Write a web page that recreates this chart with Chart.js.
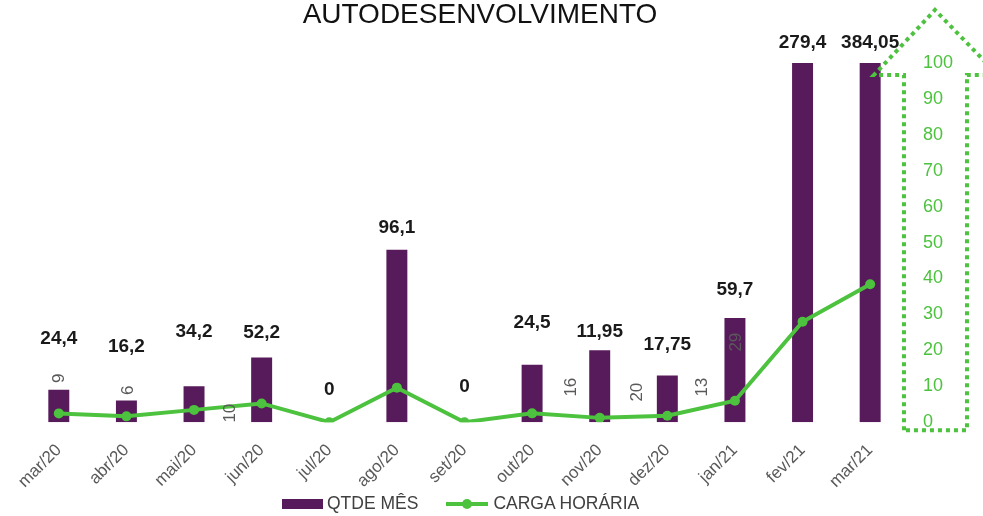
<!DOCTYPE html>
<html>
<head>
<meta charset="utf-8">
<script src="https://cdn.jsdelivr.net/npm/chart.js@4"></script>
<style>
  html, body { margin: 0; padding: 0; background: #fff; }
  #wrap { position: relative; width: 983px; height: 516px; }
  #legend {
    position: absolute; left: 282px; top: 493px;
    display: flex; align-items: center;
    font: 17.5px "Liberation Sans", Arial, sans-serif; color: #404040;
  }
  .sw-bar { width: 41px; height: 10px; background: #571A5A; margin-right: 4px; }
  .sw-line { position: relative; width: 42px; height: 4px; background: #4CC23E; margin: 0 5px 0 28px; }
  .sw-line::after {
    content: ''; position: absolute; left: 16px; top: -3px;
    width: 10px; height: 10px; border-radius: 50%; background: #4CC23E;
  }
</style>
</head>
<body>
<div id="wrap">
  <canvas id="chart" width="983" height="516"></canvas>
  <div id="legend"></div>
</div>
<script>
const chartTitle = 'AUTODESENVOLVIMENTO';
const months = ['mar/20', 'abr/20', 'mai/20', 'jun/20', 'jul/20', 'ago/20', 'set/20',
  'out/20', 'nov/20', 'dez/20', 'jan/21', 'fev/21', 'mar/21'];
const qtdeMes = [9, 6, 10, 18, 0, 48, 0, 16, 20, 13, 29, 100, 100];
const cargaHoraria = [24.4, 16.2, 34.2, 52.2, 0, 96.1, 0, 24.5, 11.95, 17.75, 59.7, 279.4, 384.05];

// label placement (px), kept apart from the data
const cargaLift = [51, 54, 54, 25, 32, 22, 35, 42, 19, 31, 28, 20, 20];
const qtdeLabelShift = [[1, 44], [2, 32], [36, 9], null, null, null, null,
  [39, 35], [38, 30], [35, 35], [1, 80], null, null];

const PURPLE = '#571A5A';
const GREEN = '#4CC23E';
const FONT = '"Liberation Sans", Arial, sans-serif';

const annotate = {
  id: 'annotate',
  afterDatasetsDraw(chart) {
    const { ctx, scales: { x, y } } = chart;
    ctx.save();
    ctx.textAlign = 'center';
    ctx.textBaseline = 'middle';

    // hours labels, bold, above the bars
    ctx.font = 'bold 19px ' + FONT;
    ctx.fillStyle = '#1a1a1a';
    cargaHoraria.forEach((v, i) => {
      const top = y.getPixelForValue(Math.min(qtdeMes[i], y.max));
      ctx.fillText(String(v).replace('.', ','), x.getPixelForValue(i), top - cargaLift[i]);
    });

    // counts, rotated
    ctx.font = '17px ' + FONT;
    ctx.fillStyle = '#595959';
    qtdeLabelShift.forEach((s, i) => {
      if (!s) return;
      ctx.save();
      ctx.translate(x.getPixelForValue(i) + s[0], y.getPixelForValue(0) - s[1]);
      ctx.rotate(-Math.PI / 2);
      ctx.fillText(String(qtdeMes[i]), 0, 0);
      ctx.restore();
    });
    ctx.restore();
  },
  afterDraw(chart) {
    const { ctx, chartArea: { right: R, top: T, bottom: B } } = chart;
    ctx.save();
    // title
    ctx.font = '28px ' + FONT;
    ctx.fillStyle = '#111';
    ctx.textAlign = 'center';
    ctx.textBaseline = 'middle';
    ctx.fillText(chartTitle, 480, 15);

    // dotted arrow around the right axis
    ctx.strokeStyle = GREEN;
    ctx.lineWidth = 4;
    ctx.setLineDash([4, 4]);
    ctx.beginPath();
    ctx.moveTo(R, B + 8);
    ctx.lineTo(R, T + 12);
    ctx.lineTo(R - 30, T + 12);
    ctx.lineTo(R + 31, T - 53);
    ctx.lineTo(R + 94, T + 12);
    ctx.lineTo(R + 63, T + 12);
    ctx.lineTo(R + 63, B + 8);
    ctx.closePath();
    ctx.stroke();
    ctx.restore();
  }
};

const chart = new Chart(document.getElementById('chart'), {
  data: {
    labels: months,
    datasets: [
      {
        type: 'bar',
        label: 'QTDE MÊS',
        data: qtdeMes,
        backgroundColor: PURPLE,
        barPercentage: 0.31,
        categoryPercentage: 1,
        yAxisID: 'y',
        order: 2
      },
      {
        type: 'line',
        label: 'CARGA HORÁRIA',
        data: cargaHoraria,
        borderColor: GREEN,
        backgroundColor: GREEN,
        borderWidth: 4,
        pointRadius: 5,
        pointHoverRadius: 5,
        pointBackgroundColor: GREEN,
        pointBorderWidth: 0,
        tension: 0,
        yAxisID: 'y2',
        order: 1
      }
    ]
  },
  options: {
    responsive: false,
    animation: false,
    layout: { padding: { left: 25, right: 11, top: 63, bottom: 14 } },
    plugins: {
      title: { display: false },
      legend: { display: false },
      tooltip: { enabled: false }
    },
    scales: {
      x: {
        grid: { display: false },
        border: { display: false },
        ticks: {
          minRotation: 45,
          maxRotation: 45,
          padding: 10,
          color: '#595959',
          font: { family: FONT, size: 17 }
        }
      },
      y: {
        position: 'right',
        min: 0,
        max: 100,
        grid: { display: false, drawTicks: false },
        border: { display: false },
        ticks: {
          stepSize: 10,
          padding: 19,
          color: GREEN,
          font: { family: FONT, size: 18 }
        }
      },
      y2: {
        display: false,
        min: 0,
        max: 1000
      }
    }
  },
  plugins: [annotate]
});

// legend as page text, built from the datasets
const legend = document.getElementById('legend');
chart.data.datasets.forEach(ds => {
  const sw = document.createElement('span');
  sw.className = ds.type === 'bar' ? 'sw-bar' : 'sw-line';
  const txt = document.createElement('span');
  txt.textContent = ds.label;
  legend.append(sw, txt);
});
</script>
</body>
</html>
